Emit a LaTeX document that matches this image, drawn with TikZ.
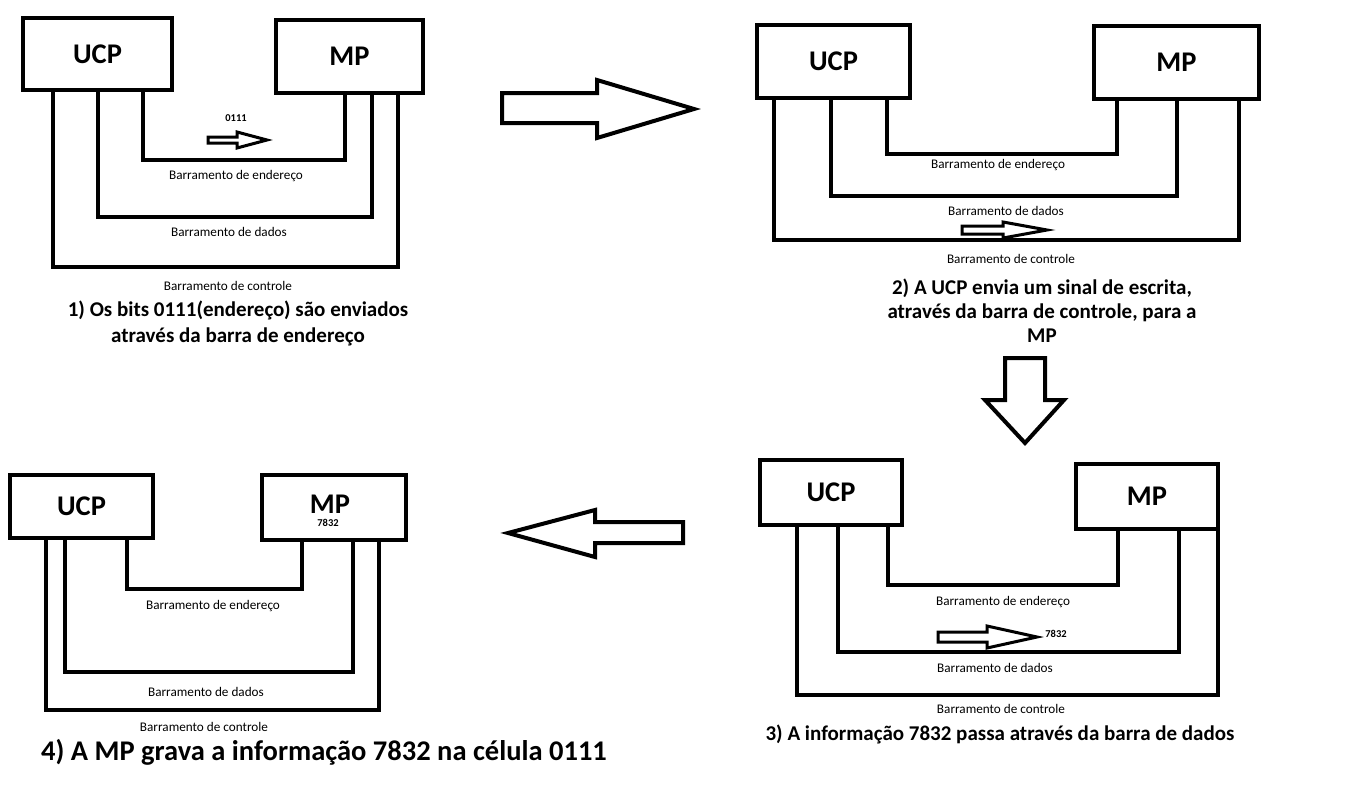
\documentclass[tikz,border=0pt]{standalone}
\usepackage{fontspec}
\setmainfont{Carlito}
\begin{document}
\begin{tikzpicture}[x=1pt,y=-1pt,
  box/.style n args={2}{draw,line width=4pt,minimum width=#1,minimum height=#2,inner sep=0pt,
    font=\bfseries\fontsize{28.5}{28.5}\selectfont},
  bus/.style={line width=4.5pt,line join=miter},
  lbl/.style={font=\fontsize{13.2}{15}\selectfont,inner sep=0pt},
  captxt/.style={font=\bfseries\fontsize{21}{25}\selectfont,align=center,inner sep=0pt},
  numtxt/.style={font=\bfseries\fontsize{10.5}{10.5}\selectfont,inner sep=0pt},
  bigarrow/.style={draw,line width=4pt,line join=miter,fill=white},
  smallarrow/.style={draw,line width=3pt,line join=miter,fill=white}]
\useasboundingbox (0,0) rectangle (1360,800);
\fill[white] (0,0) rectangle (1360,800);

% ---------- Panel 1 ----------
\node[box={149}{72}] (u1) at (97.5,54) {UCP};
\node[box={147}{73}] (m1) at (349.5,56.5) {MP};
\draw[bus] ([xshift=122pt]u1.south west) -- ++(0,68) -| ([xshift=71pt]m1.south west);
\draw[bus] ([xshift=77pt]u1.south west) -- ++(0,125) -| ([xshift=98pt]m1.south west);
\draw[bus] ([xshift=32pt]u1.south west) -- ++(0,175) -| ([xshift=124pt]m1.south west);
\node[numtxt] (n1) at (236,118) {0111};
\draw[smallarrow] (208,137) -- (237,137) -- (237,132) -- (267,140) -- (237,148) -- (237,143) -- (208,143) -- cycle;
\node[lbl] (a1) at (236,176) {Barramento de endereço};
\node[lbl] (d1) at (229,232) {Barramento de dados};
\node[lbl] (c1) at (228,286) {Barramento de controle};
\node[captxt,font=\bfseries\fontsize{21}{26}\selectfont] (t1) at (238,323) {1) Os bits 0111(endereço) são enviados\\através da barra de endereço};

% ---------- Panel 2 ----------
\node[box={153}{73}] (u2) at (833.5,61.5) {UCP};
\node[box={165}{73}] (m2) at (1176.5,62.5) {MP};
\draw[bus] ([xshift=132pt]u2.south west) -- ++(0,54) -| ([xshift=25pt]m2.south west);
\draw[bus] ([xshift=76pt]u2.south west) -- ++(0,96) -| ([xshift=85pt]m2.south west);
\draw[bus] ([xshift=19pt]u2.south west) -- ++(0,140) -| ([xshift=147pt]m2.south west);
\draw[smallarrow] (962,226) -- (1003,226) -- (1003,222) -- (1047,230) -- (1003,238) -- (1003,234) -- (962,234) -- cycle;
\node[lbl] (a2) at (998,165) {Barramento de endereço};
\node[lbl] (d2) at (1006,211) {Barramento de dados};
\node[lbl] (c2) at (1011,259) {Barramento de controle};
\node[captxt,font=\bfseries\fontsize{21}{24}\selectfont] (t2) at (1042,311) {2) A UCP envia um sinal de escrita,\\através da barra de controle, para a\\MP};

% ---------- Panel 3 ----------
\node[box={142}{65}] (u3) at (831,492.5) {UCP};
\node[box={142}{65}] (m3) at (1147,496.5) {MP};
\draw[bus] ([xshift=130pt]u3.south west) -- ++(0,58) -| ([xshift=44pt]m3.south west);
\draw[bus] ([xshift=80pt]u3.south west) -- ++(0,125) -| ([xshift=105pt]m3.south west);
\draw[bus] ([xshift=39pt]u3.south west) -- ++(0,168) -| ([xshift=144pt]m3.south west);
\draw[smallarrow] (938,632) -- (987,632) -- (987,626) -- (1037,637) -- (987,648) -- (987,642) -- (938,642) -- cycle;
\node[numtxt] (n3) at (1056,634) {7832};
\node[lbl] (a3) at (1003,602) {Barramento de endereço};
\node[lbl] (d3) at (995,668) {Barramento de dados};
\node[lbl] (c3) at (1001,709) {Barramento de controle};
\node[captxt] (t3) at (1000,734) {3) A informação 7832 passa através da barra de dados};

% ---------- Panel 4 ----------
\node[box={143}{63}] (u4) at (81.5,506.5) {UCP};
\node[box={144}{65}] (m4) at (334,507.5) {};
\node[font=\bfseries\fontsize{28.5}{28.5}\selectfont,inner sep=0pt] (mp4) at (330,504) {MP};
\node[numtxt] (n4) at (328,523) {7832};
\draw[bus] ([xshift=119pt]u4.south west) -- ++(0,49) -| ([xshift=42pt]m4.south west);
\draw[bus] ([xshift=57pt]u4.south west) -- ++(0,132) -| ([xshift=93pt]m4.south west);
\draw[bus] ([xshift=38pt]u4.south west) -- ++(0,170) -| ([xshift=119pt]m4.south west);
\node[lbl] (a4) at (213,606) {Barramento de endereço};
\node[lbl] (d4) at (206,692) {Barramento de dados};
\node[lbl] (c4) at (204,727) {Barramento de controle};
\node[font=\bfseries\fontsize{28.5}{32}\selectfont,inner sep=0pt] (t4) at (324,752) {4) A MP grava a informação 7832 na célula 0111};

% ---------- Big arrows ----------
\draw[bigarrow] (502,93) -- (597,93) -- (597,80) -- (694,109) -- (597,138) -- (597,123) -- (502,123) -- cycle;
\draw[bigarrow] (1005,358) -- (1045,358) -- (1045,400) -- (1064,400) -- (1025,443) -- (985,400) -- (1005,400) -- cycle;
\draw[bigarrow] (683,522) -- (595,522) -- (595,510) -- (508,533) -- (595,557) -- (595,543) -- (683,543) -- cycle;
\end{tikzpicture}
\end{document}
